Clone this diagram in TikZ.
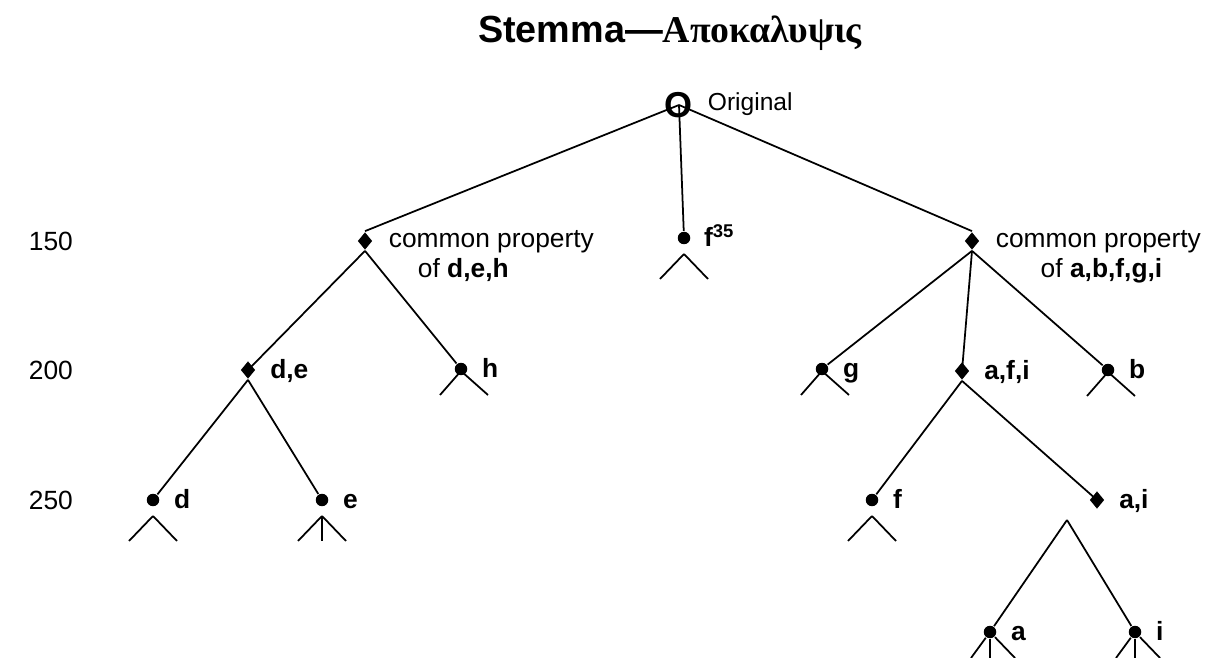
\documentclass[tikz,border=0pt]{standalone}
\usepackage{fontspec}
\setmainfont{Liberation Sans}
\newfontfamily\greekfont{Liberation Serif}
\usetikzlibrary{shapes.geometric,positioning,calc}

\begin{document}
\begin{tikzpicture}[x=0.02cm,y=-0.02cm,line width=1pt,
  knot/.style={diamond,fill,inner sep=0pt,minimum width=0.3cm,minimum height=0.36cm},
  wit/.style={circle,fill,inner sep=0pt,minimum size=0.25cm},
  lab/.style={font=\fontsize{15}{18}\selectfont\bfseries,inner sep=0pt,
    text height=10.8pt,text depth=0.8pt},
  note/.style={font=\fontsize{15}{17.6}\selectfont,inner sep=0pt,align=left}]
  \useasboundingbox (0,0) rectangle (1207,658);
  % title
  \node[anchor=base,font=\fontsize{21.5}{26}\selectfont\bfseries] (title) at (670,43)
    {Stemma—{\greekfont Αποκαλυψις}};
  % levels
  \node[note,anchor=west] (l150) at (28,241) {150};
  \node[note,anchor=west] (l200) at (28,370) {200};
  \node[note,anchor=west] (l250) at (28,500) {250};
  % archetype
  \node[inner sep=0pt,font=\fontsize{20.5}{24}\selectfont\bfseries] (O) at (679,105) {O};
  \node[note,anchor=west,font=\fontsize{14}{17}\selectfont] (orig) at (707,104) {Original};
  % hyparchetypes and witnesses
  \node[knot] (lc) at (365,241) {};
  \node[wit] (f35) at (684,238) {};
  \node[knot] (rc) at (972,241) {};
  \node[knot] (de) at (248,370) {};
  \node[wit] (h) at (461,369) {};
  \node[wit] (g) at (822,369) {};
  \node[knot] (afi) at (962,371) {};
  \node[wit] (b) at (1108,370) {};
  \node[wit] (d) at (153,500) {};
  \node[wit] (e) at (322,500) {};
  \node[wit] (f) at (872,500) {};
  \node[knot] (ai) at (1097,500) {};
  \coordinate (aiknot) at (1067,520);
  \node[wit] (a) at (990,632) {};
  \node[wit] (i) at (1135,632) {};
  % sigla
  \node[lab,right=0.24cm of f35] (f35tx) {f\textsuperscript{35}};
  \node[lab,right=0.26cm of de] (detx) {d,e};
  \node[lab,right=0.26cm of h] (htx) {h};
  \node[lab,right=0.26cm of g] (gtx) {g};
  \node[lab,right=0.26cm of afi] (afitx) {a,f,i};
  \node[lab,right=0.26cm of b] (btx) {b};
  \node[lab,right=0.26cm of d] (dtx) {d};
  \node[lab,right=0.26cm of e] (etx) {e};
  \node[lab,right=0.26cm of f] (ftx) {f};
  \node[lab,right=0.26cm of ai] (aitx) {a,i};
  \node[lab,right=0.26cm of a] (atx) {a};
  \node[lab,right=0.26cm of i] (itx) {i};
  \node[note,anchor=base west] (lcnote) at (388,278)
    {common property\\\hspace*{1.1em}of \textbf{d,e,h}};
  \node[note,anchor=base west] (rcnote) at (995,278)
    {common property\\\hspace*{1.7em}of \textbf{a,b,f,g,i}};
  % stemma lines
  \draw (O.center) -- (lc.north);
  \draw (O.center) -- (f35);
  \draw (O.center) -- (rc.north);
  \draw (lc.south) -- (de.center);
  \draw (lc.south) -- (h);
  \draw (de.south) -- (d);
  \draw (de.south) -- (e);
  \draw (rc.south) -- (g);
  \draw (rc.south) -- (afi.center);
  \draw (rc.south) -- (b);
  \draw (afi.south) -- (f);
  \draw (afi.south) -- (ai.center);
  \draw (aiknot) -- (a);
  \draw (aiknot) -- (i);
  % descendants
  \foreach \n in {f35,d,e,f}
    \draw ($(\n)+(0,16)$) -- +(-24,25) ($(\n)+(0,16)$) -- +(24,25);
  \draw ($(e)+(0,16)$) -- +(0,25);
  \foreach \n in {h,g,b}
    \draw ($(\n)+(0,2)$) -- +(-21,24) ($(\n)+(0,2)$) -- +(27,24);
  \foreach \n in {a,i}
    \draw (\n) -- +(-19,26) (\n) -- +(0,26) (\n) -- +(25,26);
\end{tikzpicture}
\end{document}
